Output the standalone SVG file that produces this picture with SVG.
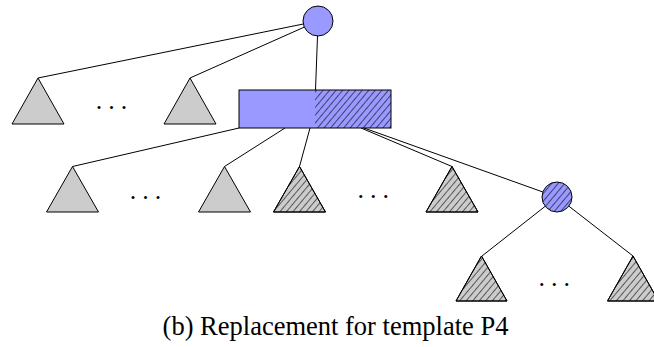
<svg xmlns="http://www.w3.org/2000/svg" width="654" height="347" viewBox="0 0 654 347">
  <defs>
    <pattern id="hatch" patternUnits="userSpaceOnUse" width="5" height="10" patternTransform="rotate(40)">
      <line x1="0" y1="-1" x2="0" y2="11" stroke="#000" stroke-width="1.15"/>
    </pattern>
  </defs>
  <style>
    .edge { stroke: #000; stroke-width: 1; fill: none; }
    .tri { fill: #cccccc; stroke: #000; stroke-width: 1; stroke-linejoin: miter; }
    .hatch { fill: url(#hatch); stroke: none; }
    .blue { fill: #9999ff; stroke: none; }
    .outline { fill: none; stroke: #000; stroke-width: 1; }
    .dots { font-size: 26px; letter-spacing: 6px; fill: #000; }
    .caption { font-size: 26.5px; fill: #000; }
  </style>
  <rect width="654" height="347" fill="#fff"/>

  <g id="connectors">
    <line class="edge" x1="303.3" y1="24" x2="38" y2="78"/>
    <line class="edge" x1="304.3" y1="27.1" x2="190" y2="78"/>
    <line class="edge" x1="317.5" y1="36" x2="315.5" y2="90"/>
    <line class="edge" x1="239" y1="128" x2="72.5" y2="166.5"/>
    <line class="edge" x1="285" y1="128" x2="224.5" y2="166.5"/>
    <line class="edge" x1="310" y1="128" x2="299.5" y2="166.5"/>
    <line class="edge" x1="361" y1="128" x2="452" y2="166.5"/>
    <line class="edge" x1="364" y1="128" x2="542.9" y2="192"/>
    <line class="edge" x1="545.2" y1="206.3" x2="482" y2="256"/>
    <line class="edge" x1="568.9" y1="206.2" x2="633" y2="256"/>
  </g>

  <g id="root">
    <circle cx="318" cy="21" r="15" fill="#9999ff" stroke="#000" stroke-width="1"/>
  </g>

  <g id="top-subtree-1">
    <polygon class="tri" points="38,78 64,124 12,124"/>
  </g>
  <text class="dots" font-family="'Liberation Serif', 'Times New Roman', 'DejaVu Serif', serif" x="95.7" y="108.5">...</text>
  <g id="top-subtree-n">
    <polygon class="tri" points="190,78 216,124 164,124"/>
  </g>

  <g id="split-node">
    <rect class="blue" x="239" y="90" width="152" height="38"/>
    <rect class="hatch" x="315" y="90" width="76" height="38"/>
    <rect class="outline" x="239" y="90" width="152" height="38"/>
  </g>

  <g id="left-subtree-1">
    <polygon class="tri" points="72.5,166.5 98.5,212 46.5,212"/>
  </g>
  <text class="dots" font-family="'Liberation Serif', 'Times New Roman', 'DejaVu Serif', serif" x="129.7" y="198.5">...</text>
  <g id="left-subtree-n">
    <polygon class="tri" points="224.5,166.5 250.5,212 198.5,212"/>
  </g>

  <g id="right-subtree-1">
    <polygon class="tri" points="299.5,166.5 325.5,212 273.5,212"/>
    <polygon class="hatch" points="299.5,166.5 325.5,212 273.5,212"/>
    <polygon class="outline" points="299.5,166.5 325.5,212 273.5,212"/>
  </g>
  <text class="dots" font-family="'Liberation Serif', 'Times New Roman', 'DejaVu Serif', serif" x="357.4" y="197.8">...</text>
  <g id="right-subtree-n">
    <polygon class="tri" points="452,166.5 478,212 426,212"/>
    <polygon class="hatch" points="452,166.5 478,212 426,212"/>
    <polygon class="outline" points="452,166.5 478,212 426,212"/>
  </g>

  <g id="new-node">
    <circle cx="557" cy="197" r="15" fill="#9999ff"/>
    <circle cx="557" cy="197" r="15" class="hatch"/>
    <circle cx="557" cy="197" r="15" class="outline"/>
  </g>

  <g id="new-subtree-1">
    <polygon class="tri" points="481.5,256 507,301 456,301"/>
    <polygon class="hatch" points="481.5,256 507,301 456,301"/>
    <polygon class="outline" points="481.5,256 507,301 456,301"/>
  </g>
  <text class="dots" font-family="'Liberation Serif', 'Times New Roman', 'DejaVu Serif', serif" x="538.4" y="286.2">...</text>
  <g id="new-subtree-n">
    <polygon class="tri" points="633,256 658.5,301 607.5,301"/>
    <polygon class="hatch" points="633,256 658.5,301 607.5,301"/>
    <polygon class="outline" points="633,256 658.5,301 607.5,301"/>
  </g>

  <text class="caption" font-family="'Liberation Serif', 'Times New Roman', 'DejaVu Serif', serif" x="335.5" y="335" text-anchor="middle">(b) Replacement for template P4</text>
</svg>
